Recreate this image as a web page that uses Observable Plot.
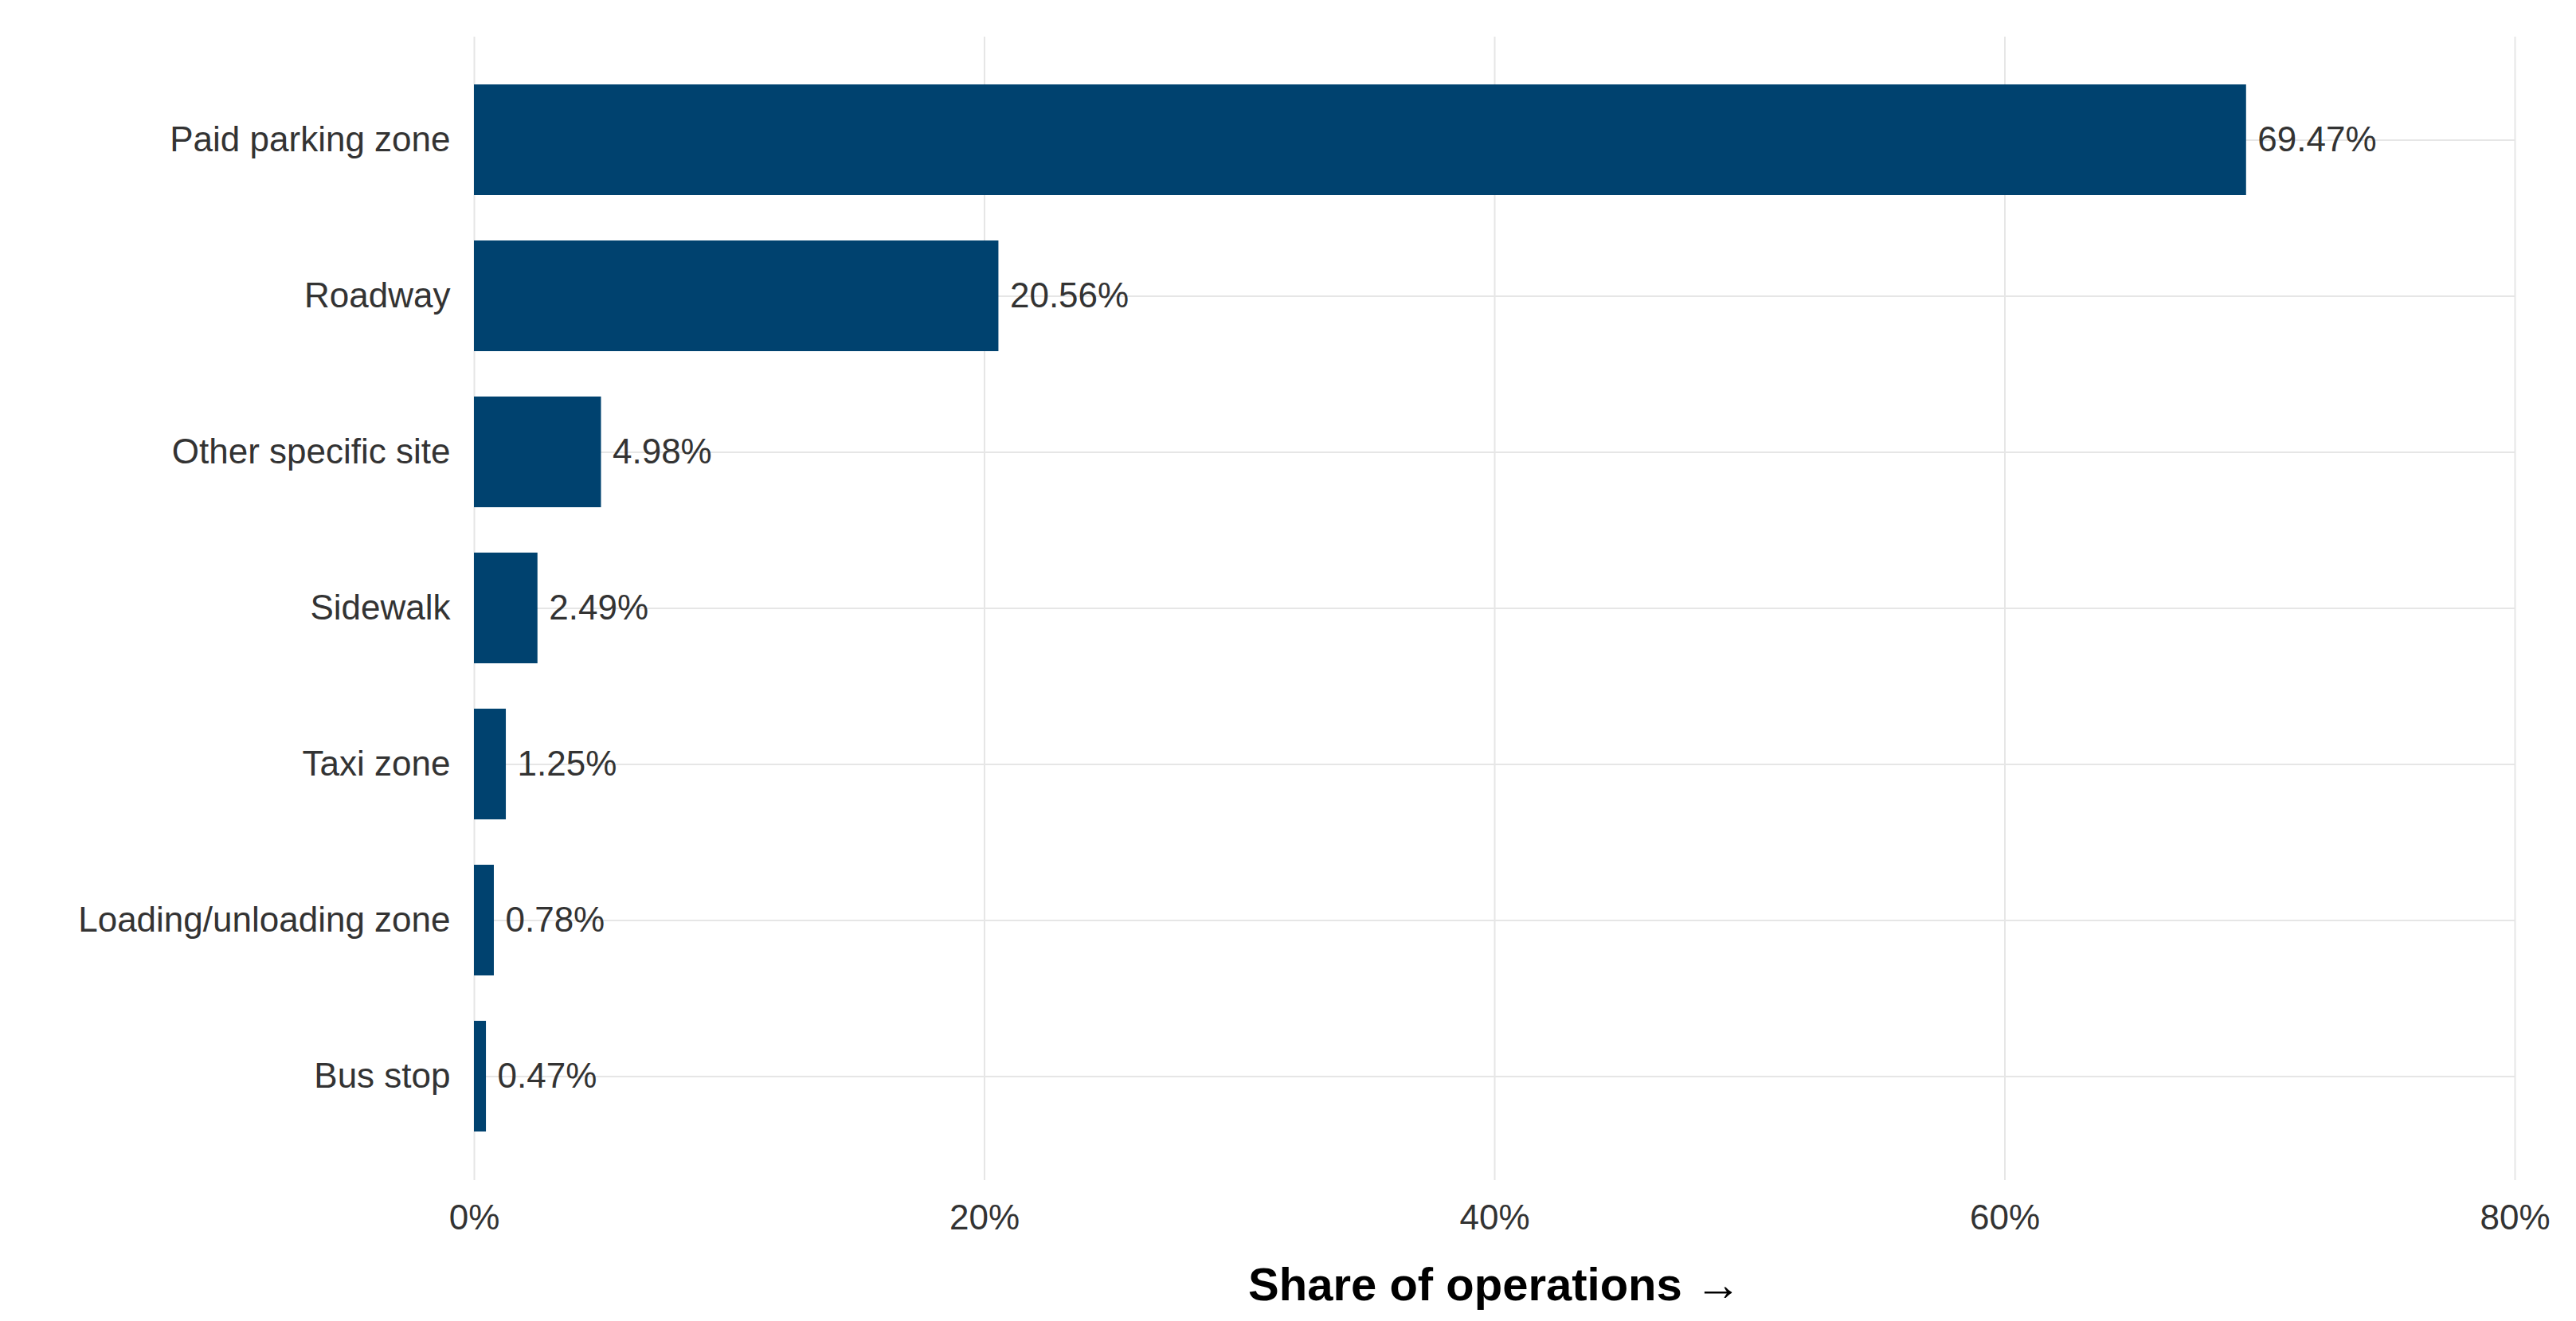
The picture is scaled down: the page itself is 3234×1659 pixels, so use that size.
<!DOCTYPE html>
<html><head><meta charset="utf-8">
<script src="https://cdn.jsdelivr.net/npm/d3@7"></script>
<script src="https://cdn.jsdelivr.net/npm/@observablehq/plot@0.6"></script>
<style>body{margin:0;background:#fff}</style>
</head><body><div id="chart"></div>
<script>
const categories = ["Paid parking zone","Roadway","Other specific site","Sidewalk","Taxi zone","Loading/unloading zone","Bus stop"];
const shares = [69.47,20.56,4.98,2.49,1.25,0.78,0.47];
const xTicks = [0,20,40,60,80];
const data = categories.map((c,i)=>({category:c, share:shares[i]}));
const chart = Plot.plot({
  width:3234, height:1659,
  marginLeft:595, marginRight:77, marginTop:46, marginBottom:177,
  style:{fontFamily:"Liberation Sans, Arial, sans-serif", fontSize:"44px", color:"#333"},
  x:{domain:[0,80], ticks:xTicks, tickFormat:d=>d+"%", label:"Share of operations", labelAnchor:"center", labelOffset:150, tickSize:0, tickPadding:30},
  y:{domain:categories, padding:0.29, label:null, tickSize:0, tickPadding:30},
  marks:[
    Plot.gridX(xTicks,{stroke:"#e6e6e6", strokeOpacity:1, strokeWidth:2}),
    Plot.gridY(categories,{stroke:"#e6e6e6", strokeOpacity:1, strokeWidth:2}),
    Plot.barX(data,{x:"share", y:"category", fill:"#00426F"}),
    Plot.text(data,{x:"share", y:"category", text:d=>d.share.toFixed(2)+"%", textAnchor:"start", dx:14, fill:"#333", fontSize:44})
  ]
});
d3.select(chart).selectAll("[aria-label='x-axis label'] text").attr("font-weight","bold").attr("font-size",58).attr("fill","#000");
document.getElementById("chart").append(chart);
</script></body></html>
